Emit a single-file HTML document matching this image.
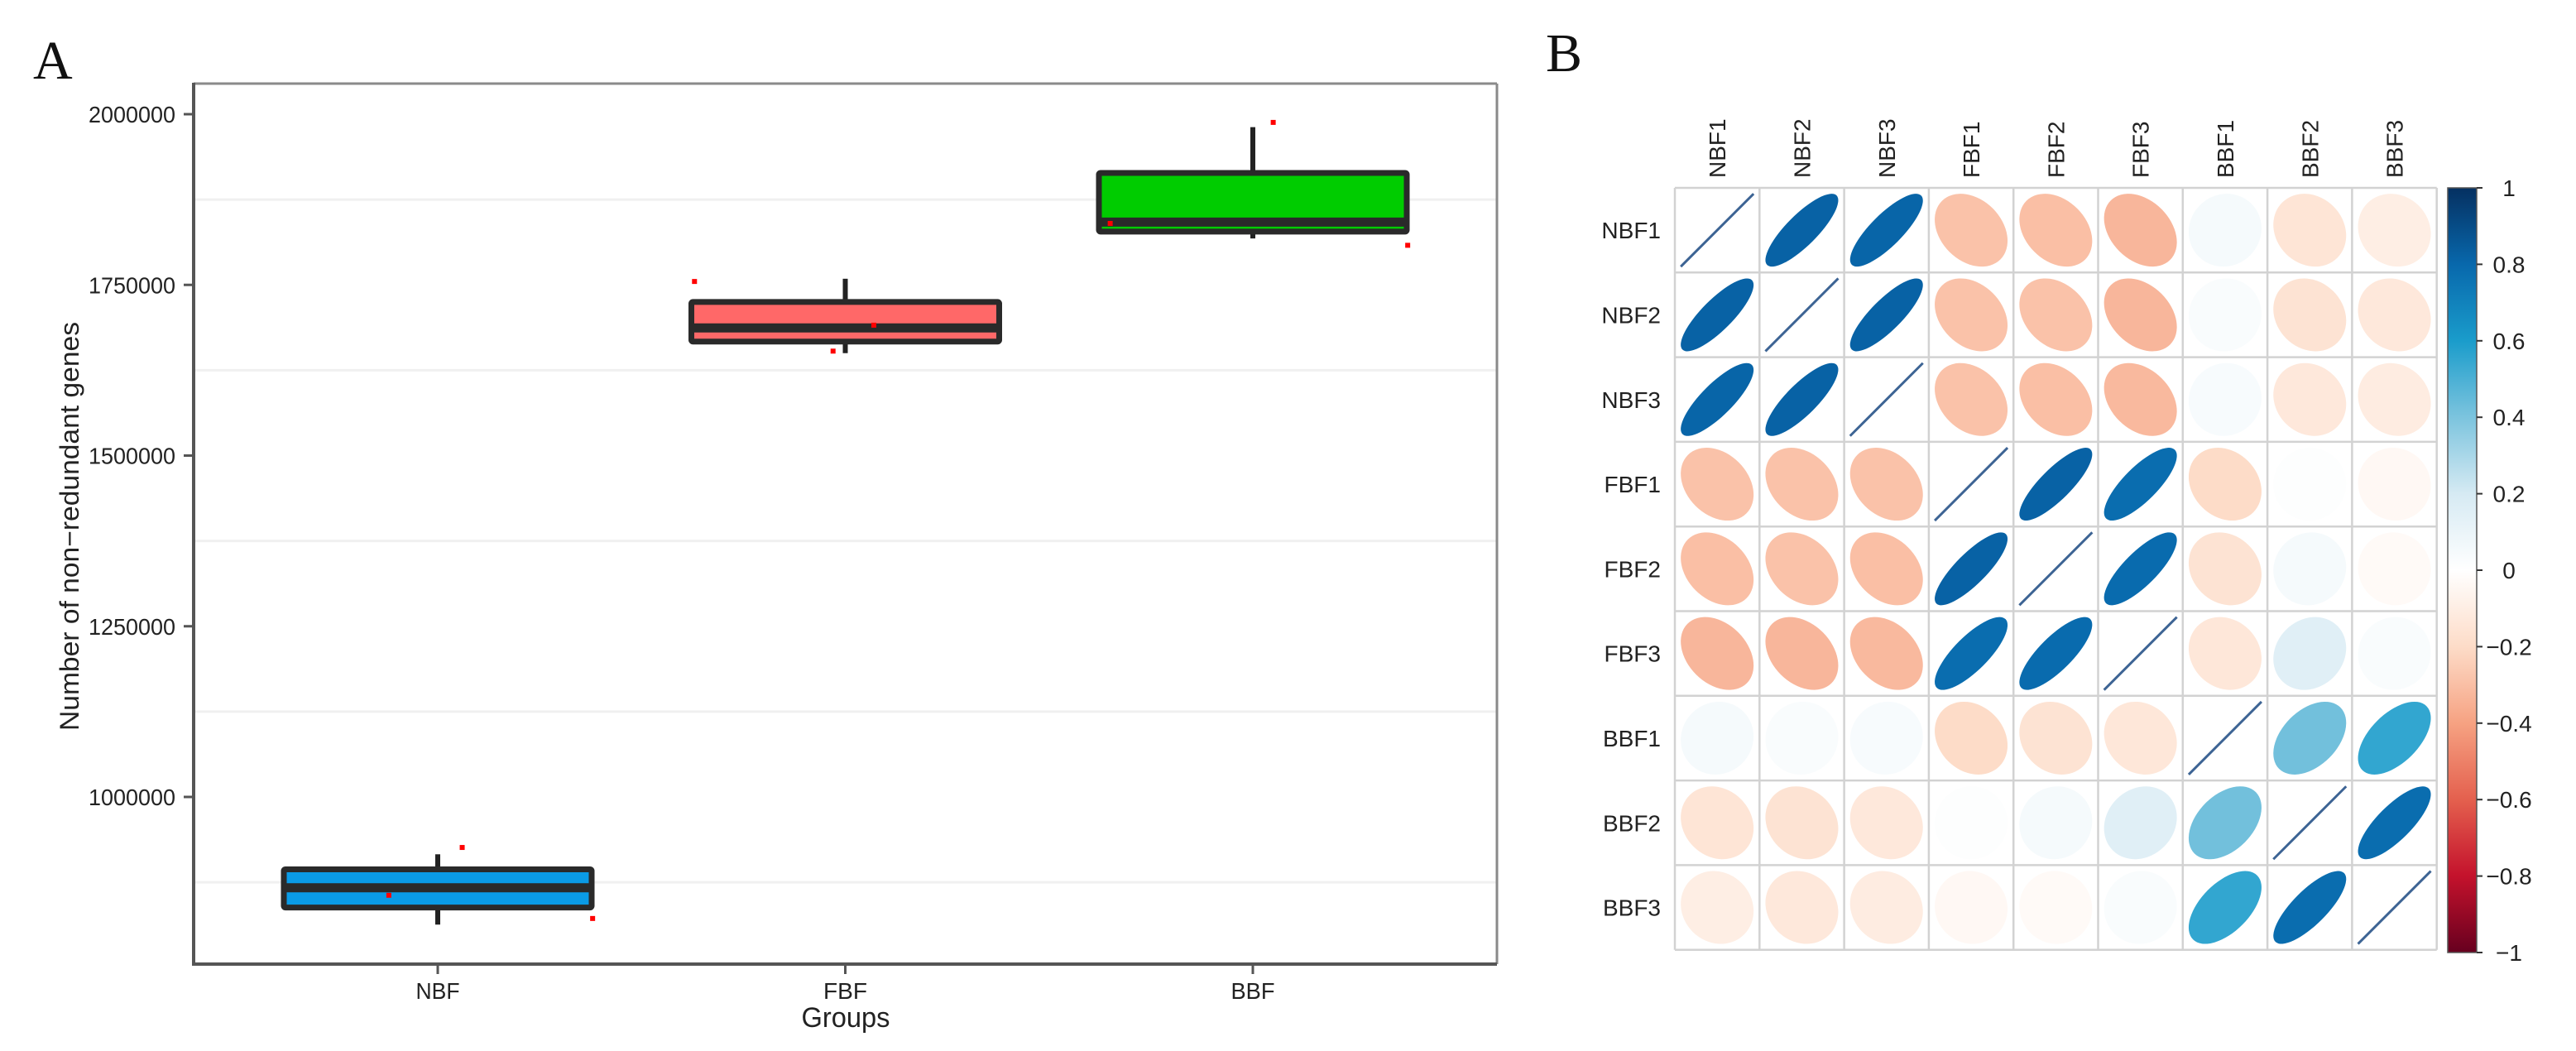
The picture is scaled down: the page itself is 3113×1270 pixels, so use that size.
<!DOCTYPE html>
<html><head><meta charset="utf-8"><title>Non-redundant genes and correlation matrix</title>
<style>
html,body{margin:0;padding:0;background:#fff;}
svg{display:block;}
text{font-family:"Liberation Sans",Arial,sans-serif;fill:#222;}
</style></head>
<body>
<svg id="fig" width="3113" height="1270" viewBox="0 0 3113 1270" xmlns="http://www.w3.org/2000/svg">
  <rect x="0" y="0" width="3113" height="1270" fill="#fff"/>
  <text x="40" y="95" font-size="66" style="font-family:'Liberation Serif',serif;fill:#111">A</text>
  <text x="1868" y="86" font-size="66" style="font-family:'Liberation Serif',serif;fill:#111">B</text>
  <g id="panelA"></g>
  <g id="panelB"></g>
</svg>
<script>
// ---------- Panel A data ----------
const groups = ["NBF","FBF","BBF"];
const whiskerLow  = [813000, 1650000, 1818000];
const q1          = [838000, 1667000, 1828000];
const median      = [867000, 1687000, 1842000];
const q3          = [894000, 1725000, 1914000];
const whiskerHigh = [916000, 1759000, 1981000];
const boxColors   = ["#0a9be6","#ff6868","#00cc00"];
const pointGroup  = [0,0,0,1,1,1,2,2,2];
const pointValue  = [926000, 856000, 822000, 1755000, 1691000, 1653000, 1988000, 1840000, 1808000];
const pointJitter = [0.06, -0.12, 0.38, -0.37, 0.07, -0.03, 0.05, -0.35, 0.38];
const yTicks      = [1000000, 1250000, 1500000, 1750000, 2000000];
const yMinor      = [875000, 1125000, 1375000, 1625000, 1875000];

// ---------- Panel B data ----------
const samples = ["NBF1","NBF2","NBF3","FBF1","FBF2","FBF3","BBF1","BBF2","BBF3"];
const corrRows = [
  [1.00, 0.82, 0.81,-0.29,-0.30,-0.33, 0.05,-0.15,-0.10],
  [0.82, 1.00, 0.82,-0.29,-0.29,-0.33, 0.03,-0.16,-0.13],
  [0.81, 0.82, 1.00,-0.29,-0.30,-0.32, 0.04,-0.13,-0.11],
  [-0.29,-0.29,-0.29, 1.00, 0.82, 0.78,-0.20, 0.01,-0.04],
  [-0.30,-0.29,-0.30, 0.82, 1.00, 0.79,-0.16, 0.05,-0.03],
  [-0.33,-0.33,-0.32, 0.78, 0.79, 1.00,-0.14, 0.15, 0.03],
  [0.05, 0.03, 0.04,-0.20,-0.16,-0.14, 1.00, 0.42, 0.55],
  [-0.15,-0.16,-0.13, 0.01, 0.05, 0.15, 0.42, 1.00, 0.78],
  [-0.10,-0.13,-0.11,-0.04,-0.03, 0.03, 0.55, 0.78, 1.00]
];
const colorbarTicks = [1,0.8,0.6,0.4,0.2,0,-0.2,-0.4,-0.6,-0.8,-1];
const colorStopsVal = [-1,-0.8,-0.6,-0.4,-0.2,0,0.2,0.4,0.6,0.8,1];
const colorStopsHex = ["#67001F","#C4122C","#E4604E","#F6A282","#FDDCC8","#FFFFFF","#D6EAF3","#7CC4DE","#1A9CCB","#0868AC","#053061"];

const NS="http://www.w3.org/2000/svg";
function mk(tag, attrs, parent){const e=document.createElementNS(NS,tag);for(const k in attrs)e.setAttribute(k,attrs[k]);parent.appendChild(e);return e;}

// ---------- Panel A ----------
const A=document.getElementById('panelA');
const fL=234, fR=1809, fT=101, fB=1165;
const yScale=v=>138+(2000000-v)/250000*206.25;
const xScale=i=>529+i*492.5;
const halfW=186;

yMinor.forEach(v=>{
  const l=mk('line',{x1:fL,x2:fR,y1:yScale(v),y2:yScale(v),stroke:'#f0f0f0','stroke-width':3},A);
  
  
});
yTicks.forEach(v=>{
  const t=mk('line',{x1:222,x2:fL,y1:yScale(v),y2:yScale(v),stroke:'#555','stroke-width':3},A);
  
  
  const tx=mk('text',{x:212,y:yScale(v)+10,'text-anchor':'end','font-size':28,textLength:105,lengthAdjust:'spacingAndGlyphs',fill:'#333'},A);
  tx.textContent=String(v);
  
  
});
const yt=mk('text',{x:0,y:0,'text-anchor':'middle','font-size':32,textLength:494,lengthAdjust:'spacingAndGlyphs',transform:'translate(95,636) rotate(-90)',fill:'#222'},A);
yt.textContent='Number of non\u2212redundant genes';



groups.forEach((g,i)=>{
  const cx=xScale(i);
  const gg=mk('g',{},A);
  
  
  mk('line',{x1:cx,x2:cx,y1:yScale(whiskerHigh[i]),y2:yScale(q3[i]),stroke:'#222','stroke-width':6},gg);
  mk('line',{x1:cx,x2:cx,y1:yScale(q1[i]),y2:yScale(whiskerLow[i]),stroke:'#222','stroke-width':6},gg);
  const yt3=yScale(q3[i]), yt1=yScale(q1[i]);
  mk('rect',{x:cx-halfW,y:yt3,width:2*halfW,height:yt1-yt3,fill:boxColors[i],stroke:'#2a2a2a','stroke-width':7,rx:2},gg);
  mk('line',{x1:cx-halfW,x2:cx+halfW,y1:yScale(median[i]),y2:yScale(median[i]),stroke:'#2a2a2a','stroke-width':11},gg);
  const tk=mk('line',{x1:cx,x2:cx,y1:fB,y2:fB+12,stroke:'#555','stroke-width':3},A);
  
  
  const lb=mk('text',{x:cx,y:1207,'text-anchor':'middle','font-size':28,textLength:53,lengthAdjust:'spacingAndGlyphs',fill:'#333'},A);
  lb.textContent=g;
  
  
});
pointValue.forEach((v,k)=>{
  const cx=xScale(pointGroup[k])+pointJitter[k]*492.5;
  const p=mk('rect',{x:cx-3,y:yScale(v)-3,width:6,height:6,fill:'#ff0000'},A);
  
  
});
const fr=mk('g',{},A);


mk('line',{x1:fL,x2:fR,y1:fT,y2:fT,stroke:'#8a8a8a','stroke-width':3},fr);
mk('line',{x1:fR,x2:fR,y1:fT,y2:fB,stroke:'#8a8a8a','stroke-width':3},fr);
mk('line',{x1:fL,x2:fL,y1:fT-1,y2:fB+2,stroke:'#555','stroke-width':4},fr);
mk('line',{x1:fL,x2:fR,y1:fB,y2:fB,stroke:'#555','stroke-width':4},fr);
const xt=mk('text',{x:1022,y:1241,'text-anchor':'middle','font-size':34,textLength:107,lengthAdjust:'spacingAndGlyphs',fill:'#222'},A);
xt.textContent='Groups';



// ---------- Panel B ----------
const B=document.getElementById('panelB');
const gL=2024, gT=227, cell=102.3, n=samples.length, R=44;
function hex2rgb(h){return [1,3,5].map(i=>parseInt(h.substr(i,2),16));}
function colorFor(r){
  for(let i=0;i<colorStopsVal.length-1;i++){
    if(r>=colorStopsVal[i]&&r<=colorStopsVal[i+1]){
      const t=(r-colorStopsVal[i])/(colorStopsVal[i+1]-colorStopsVal[i]);
      const a=hex2rgb(colorStopsHex[i]),b=hex2rgb(colorStopsHex[i+1]);
      return 'rgb('+a.map((c,j)=>Math.round(c+(b[j]-c)*t)).join(',')+')';
    }
  }
  return '#fff';
}
mk('rect',{x:gL,y:gT,width:n*cell,height:n*cell,fill:'#fff'},B);
for(let i=0;i<n;i++){
  for(let j=0;j<n;j++){
    const r=corrRows[i][j];
    const cx=gL+(j+0.5)*cell, cy=gT+(i+0.5)*cell;
    if(Math.abs(r)>=0.999){
      const d=mk('line',{x1:cx-R,y1:cy+R,x2:cx+R,y2:cy-R,stroke:'#3d6494','stroke-width':3},B);
      
      
    } else {
      const a=R*Math.sqrt(1+Math.abs(r)), b=R*Math.sqrt(1-Math.abs(r));
      const e=mk('ellipse',{cx:0,cy:0,rx:a,ry:b,fill:colorFor(r),transform:'translate('+cx+','+cy+') rotate('+(r>=0?-45:45)+')'},B);
      
      
    }
  }
}
for(let k=0;k<=n;k++){
  const gv=mk('line',{x1:gL+k*cell,x2:gL+k*cell,y1:gT,y2:gT+n*cell,stroke:'#d2d2d2','stroke-width':2.5},B);
  
  
  const gh=mk('line',{x1:gL,x2:gL+n*cell,y1:gT+k*cell,y2:gT+k*cell,stroke:'#d2d2d2','stroke-width':2.5},B);
  
  
}
samples.forEach((s,i)=>{
  const rl=mk('text',{x:2007,y:gT+(i+0.5)*cell+10,'text-anchor':'end','font-size':28,fill:'#222'},B);
  rl.textContent=s;
  
  
  const cl=mk('text',{x:0,y:0,'font-size':28,fill:'#222',transform:'translate('+(gL+(i+0.5)*cell+10)+',215) rotate(-90)'},B);
  cl.textContent=s;
  
  
});
// colorbar
const cbX=2958, cbW=35, cbT=227, cbB=1151;
const defs=mk('defs',{},B);
const lg=mk('linearGradient',{id:'cbgrad',x1:0,y1:1,x2:0,y2:0},defs);
colorStopsVal.forEach((v,k)=>{mk('stop',{offset:((v+1)/2*100)+'%','stop-color':colorStopsHex[k]},lg);});
const cb=mk('rect',{x:cbX,y:cbT,width:cbW,height:cbB-cbT,fill:'url(#cbgrad)',stroke:'#555','stroke-width':1.5},B);


const cbY=v=>cbT+(1-v)/2*(cbB-cbT);
colorbarTicks.forEach(v=>{
  const t=mk('line',{x1:cbX+cbW,x2:cbX+cbW+7,y1:cbY(v),y2:cbY(v),stroke:'#333','stroke-width':2},B);
  
  
  const lb=mk('text',{x:3032,y:cbY(v)+10,'text-anchor':'middle','font-size':28,fill:'#333'},B);
  lb.textContent=(v<0?'\u2212':'')+String(Math.abs(v));
  
  
});
</script>
</body></html>
